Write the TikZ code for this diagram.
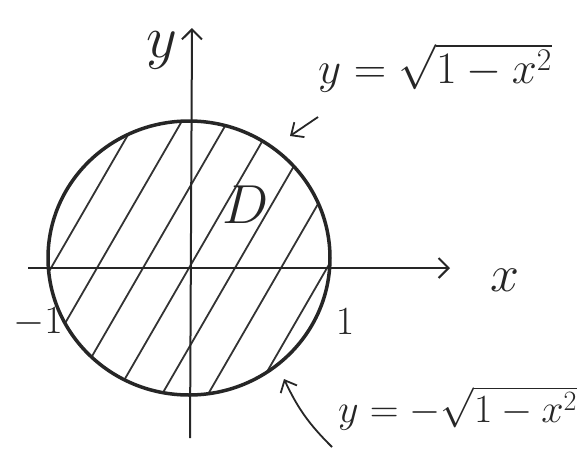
\RequirePackage{fix-cm}
\documentclass[tikz,border=0pt]{standalone}
\usepackage{amsmath}
\usetikzlibrary{arrows.meta, calc}
\tikzstyle{boundary}=[line width=3.5pt, draw=black!85]
\tikzstyle{axis}=[line width=2pt, draw=black!85, -{Straight Barb[length=10pt, width=20pt, line width=2pt]}]
\tikzstyle{hatch}=[line width=1.8pt, draw=black!80]
\tikzstyle{pointer}=[line width=1.8pt, draw=black!85, -{Straight Barb[length=10pt, width=18pt, line width=1.8pt]}]
\tikzstyle{hand}=[inner sep=0pt, text=black!85]

\begin{document}
\begin{tikzpicture}[x=1pt, y=-1pt]
		\useasboundingbox (0,0) rectangle (579,461);
		\def\cx{189}
		\def\cy{258}

		% Hatch the domain D
		\begin{scope}
		\clip (\cx,\cy) ellipse [x radius=141, y radius=137];
		\foreach \k in {-4,...,4}
		\draw[hatch] (\cx+\k*46-100, 268+173) -- (\cx+\k*46+100, 268-173);
		\end{scope}

		% Draw the boundary circle
		\draw[boundary] (\cx,\cy) ellipse [x radius=141, y radius=137];

		% Draw the axes
		\coordinate (x-start) at (28,268);
		\coordinate (x-end) at (450,268);
		\coordinate (y-start) at (190,438);
		\coordinate (y-end) at (192,28);
		\draw[axis] (x-start) -- (x-end);
		\draw[axis] (y-start) -- (y-end);

		% Labels
		\node[hand, font=\fontsize{60}{60}\selectfont] (ylab) at (162,50) {$y$};
		\node[hand, font=\fontsize{52}{52}\selectfont] (xlab) at (505,280) {$x$};
		\node[hand, font=\fontsize{55}{55}\selectfont] (dom) at (246,205) {$D$};
		\node[hand, font=\fontsize{40}{40}\selectfont] (mone) at (38,322) {$-1$};
		\node[hand, font=\fontsize{40}{40}\selectfont] (one) at (345,322) {$1$};
		\node[hand, anchor=west, font=\fontsize{45}{45}\selectfont] (upper) at (318,68) {$y=\sqrt{1-x^2}$};
		\node[hand, anchor=west, font=\fontsize{40}{40}\selectfont] (lower) at (338,408) {$y=-\sqrt{1-x^2}$};

		% Pointers to the two halves of the circle
		\coordinate (up-tail) at (318,117);
		\coordinate (up-head) at (290,136);
		\coordinate (lo-tail) at (332,447);
		\coordinate (lo-head) at (284,379);
		\draw[pointer] (up-tail) -- (up-head);
		\draw[pointer] (lo-tail) to[bend left=10] (lo-head);
	\end{tikzpicture}
\end{document}
